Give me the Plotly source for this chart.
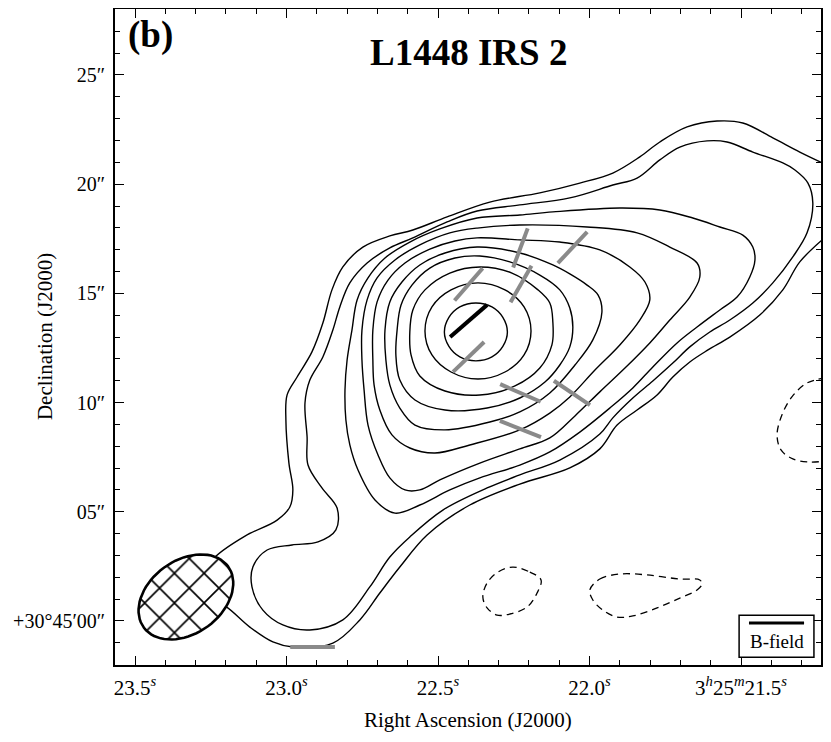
import math
import plotly.graph_objects as go

# Contour paths: RA in seconds of 3h25m, Dec in arcsec above +30d45m00s
c1_ra = [21.22, 21.306, 21.395, 21.494, 21.579, 21.678, 21.768, 21.834, 21.923, 22.032, 22.164, 22.329,
         22.470, 22.583, 22.659, 22.748, 22.814, 22.850, 22.880, 22.916, 22.965, 22.998, 23.002, 22.992,
         22.979, 22.989, 23.031, 23.137, 23.236, 23.286, 23.262, 23.203, 23.121, 23.045, 22.979, 22.847,
         22.758, 22.692, 22.626, 22.536, 22.395, 22.230, 22.065, 21.966, 21.909, 21.843, 21.777, 21.725,
         21.669, 21.609, 21.537, 21.438, 21.362, 21.306, 21.22]
c1_dec = [20.9, 21.47, 22.12, 22.80, 22.89, 22.62, 21.93, 21.25, 20.51, 20.05, 19.60, 19.18,
          18.50, 17.90, 17.63, 17.12, 16.21, 15.16, 13.64, 12.32, 11.17, 10.35, 9.20, 7.23,
          6.00, 5.22, 4.62, 3.89, 2.93, 1.97, 1.05, 0.69, -0.28, -0.96, -1.19, -1.01,
          0.05, 1.28, 2.47, 3.94, 5.31, 6.27, 7.01, 7.88, 8.97, 9.66, 10.35, 11.17,
          11.86, 12.41, 13.00, 14.01, 15.16, 16.44, 17.6]

c2_ra = [21.263, 21.279, 21.322, 21.362, 21.461, 21.546, 21.612, 21.702, 21.768, 21.843, 21.923, 22.065,
         22.230, 22.371, 22.470, 22.583, 22.659, 22.734, 22.791, 22.824, 22.847, 22.880, 22.923, 22.939,
         22.932, 22.929, 22.883, 22.833, 22.837, 22.896, 22.982, 23.064, 23.111, 23.114, 23.078, 23.012,
         22.923, 22.814, 22.725, 22.659, 22.593, 22.484, 22.338, 22.230, 22.098, 21.966, 21.923, 21.857,
         21.791, 21.725, 21.669, 21.603, 21.537, 21.461, 21.395, 21.329, 21.282]
c2_dec = [19.14, 20.05, 20.65, 20.97, 21.47, 21.93, 21.98, 21.70, 21.11, 20.28, 19.96, 19.37,
          19.05, 18.77, 18.27, 17.54, 17.08, 16.39, 15.48, 14.38, 13.32, 12.09, 11.03, 9.98,
          8.42, 7.14, 6.09, 5.17, 4.17, 3.62, 3.48, 3.25, 2.47, 1.56, 0.50, -0.18,
          -0.41, 0.05, 1.56, 2.93, 3.85, 5.08, 6.09, 6.69, 7.37, 8.56, 9.30, 10.21,
          10.99, 11.81, 12.55, 13.23, 13.78, 14.56, 15.48, 16.67, 17.77]

c3_ra = [21.454, 21.461, 21.494, 21.570, 21.659, 21.768, 21.900, 22.121, 22.230, 22.371, 22.494, 22.593,
         22.675, 22.731, 22.767, 22.784, 22.800, 22.807, 22.804, 22.791, 22.764, 22.708, 22.642, 22.560,
         22.461, 22.362, 22.230, 22.131, 22.032, 21.933, 21.857, 21.791, 21.711, 21.645, 21.570, 21.513,
         21.471]
c3_dec = [16.53, 17.12, 17.67, 18.04, 18.45, 18.82, 18.91, 18.73, 18.59, 18.45, 17.95, 17.35,
          16.62, 15.71, 14.70, 13.32, 11.95, 10.58, 9.20, 8.06, 6.91, 5.54, 4.94, 5.31,
          6.00, 6.55, 7.14, 7.74, 8.65, 9.75, 10.67, 11.63, 12.73, 13.46, 14.24, 14.83,
          15.75]

c4_ra = [21.636, 21.645, 21.735, 21.843, 22.008, 22.230, 22.371, 22.461, 22.560, 22.642, 22.701, 22.734,
         22.751, 22.751, 22.744, 22.731, 22.698, 22.659, 22.609, 22.560, 22.494, 22.362, 22.230, 22.131,
         22.048, 21.966, 21.883, 21.801, 21.735, 21.669]
c4_dec = [15.75, 16.39, 17.12, 17.77, 18.04, 18.13, 17.99, 17.77, 17.22, 16.53, 15.71, 14.70,
          13.32, 11.95, 10.58, 8.97, 7.60, 6.55, 6.00, 6.00, 6.46, 7.23, 7.88, 8.38,
          9.39, 10.49, 11.58, 12.73, 13.78, 14.83]

c5_ra = [21.801, 21.817, 21.867, 21.966, 22.098, 22.230, 22.371, 22.444, 22.527, 22.609, 22.665, 22.701,
         22.715, 22.715, 22.711, 22.692, 22.652, 22.593, 22.510, 22.395, 22.230, 22.131, 22.065, 21.982,
         21.900, 21.834]
c5_dec = [14.70, 15.52, 16.21, 16.99, 17.35, 17.45, 17.54, 17.40, 17.03, 16.39, 15.61, 14.61,
          13.32, 11.95, 10.81, 9.66, 8.52, 7.92, 7.69, 8.06, 8.75, 9.52, 10.26, 11.49,
          12.64, 13.78]

c6_ra = [21.959, 21.972, 22.008, 22.065, 22.121, 22.230, 22.371, 22.477, 22.560, 22.619, 22.659, 22.675,
         22.672, 22.659, 22.626, 22.576, 22.477, 22.329, 22.230, 22.131, 22.048, 21.989]
c6_dec = [14.15, 14.93, 15.38, 15.89, 16.30, 16.85, 17.12, 16.85, 16.30, 15.52, 14.61, 13.32,
          11.95, 10.81, 9.75, 8.97, 8.75, 9.11, 9.57, 10.44, 11.72, 12.87]

c7_ra = [22.055, 22.065, 22.098, 22.164, 22.263, 22.362, 22.444, 22.527, 22.586, 22.622, 22.635, 22.639,
         22.626, 22.576, 22.477, 22.338, 22.230, 22.147, 22.098, 22.065]
c7_dec = [13.46, 14.33, 15.16, 15.84, 16.44, 16.71, 16.62, 16.16, 15.38, 14.47, 13.32, 12.18,
          11.03, 10.12, 9.66, 9.75, 10.21, 10.94, 11.72, 12.55]

c8_ra = [22.121, 22.131, 22.170, 22.256, 22.362, 22.461, 22.543, 22.583, 22.593, 22.589, 22.560, 22.477,
         22.362, 22.246, 22.164, 22.124]
c8_dec = [13.69, 14.56, 15.16, 15.93, 16.21, 15.93, 15.16, 14.24, 13.23, 12.18, 11.22, 10.53,
          10.35, 10.76, 11.58, 12.64]

c9_ra = [22.193, 22.216, 22.279, 22.368, 22.457, 22.520, 22.543, 22.520, 22.457, 22.368, 22.279, 22.216]
c9_dec = [13.28, 14.38, 15.16, 15.48, 15.16, 14.38, 13.28, 12.18, 11.40, 11.08, 11.40, 12.18]

c10_ra = [22.271, 22.286, 22.322, 22.375, 22.428, 22.464, 22.479, 22.464, 22.428, 22.375, 22.322, 22.286]
c10_dec = [13.23, 13.90, 14.38, 14.56, 14.38, 13.90, 13.23, 12.57, 12.09, 11.91, 12.09, 12.57]

# negative (dashed) contours
n1_ra = [21.22, 21.282, 21.332, 21.365, 21.381, 21.368, 21.329, 21.279, 21.22]
n1_dec = [11.13, 10.90, 10.26, 9.43, 8.52, 7.83, 7.42, 7.28, 7.32]
n2_ra = [22.253, 22.197, 22.160, 22.173, 22.206, 22.263, 22.305, 22.338, 22.352, 22.338, 22.302]
n2_dec = [2.47, 2.24, 1.88, 1.28, 0.64, 0.32, 0.27, 0.60, 1.10, 1.74, 2.24]
n3_ra = [21.999, 21.966, 21.900, 21.810, 21.702, 21.636, 21.629, 21.645, 21.702, 21.777, 21.857,
         21.909, 21.956, 21.989]
n3_dec = [1.42, 1.92, 2.15, 2.11, 1.92, 1.88, 1.69, 1.42, 1.05, 0.60, 0.23, 0.18, 0.50, 0.96]

# B-field segments: position, position angle (deg E of N)
bf_ra = [22.228, 22.056, 22.399, 22.226, 22.399, 22.228, 22.058, 22.228, 22.914]
bf_dec = [17.08, 17.10, 15.41, 15.43, 12.09, 10.44, 10.44, 8.79, -1.19]
bf_pa = [-19, -41, -39, -28, -44, 65, 54, 67, 90]
bf_len = 1.9
peak_ra, peak_dec, peak_pa, peak_len = 22.399, 13.74, -47, 2.15

# synthesized beam
beam_ra, beam_dec = 23.332, 1.10
beam_maj, beam_min, beam_pa = 4.56, 3.26, -48

ra_ticks = [23.5, 23.0, 22.5, 22.0, 21.5]
ra_labels = ["23.5<sup><i>s</i></sup>", "23.0<sup><i>s</i></sup>", "22.5<sup><i>s</i></sup>",
             "22.0<sup><i>s</i></sup>", "3<sup><i>h</i></sup>25<sup><i>m</i></sup>21.5<sup><i>s</i></sup>"]
dec_ticks = [0, 5, 10, 15, 20, 25]
dec_labels = ["+30°45′00″", "05″", "10″", "15″", "20″", "25″"]

SEC_PER_ARCSEC = 1 / (15 * math.cos(math.radians(30.75)))
FONT = "Liberation Serif"

fig = go.Figure()

closed = [(c2_ra, c2_dec), (c3_ra, c3_dec), (c4_ra, c4_dec), (c5_ra, c5_dec), (c6_ra, c6_dec),
          (c7_ra, c7_dec), (c8_ra, c8_dec), (c9_ra, c9_dec), (c10_ra, c10_dec)]
fig.add_trace(go.Scatter(x=c1_ra, y=c1_dec, mode="lines",
                         line=dict(color="black", width=1.4, shape="spline", smoothing=1)))
for ra, dec in closed:
    fig.add_trace(go.Scatter(x=ra + ra[:1], y=dec + dec[:1], mode="lines",
                             line=dict(color="black", width=1.4, shape="spline", smoothing=1)))

fig.add_trace(go.Scatter(x=n1_ra, y=n1_dec, mode="lines",
                         line=dict(color="black", width=1.3, dash="7px,5px", shape="spline")))
for ra, dec in [(n2_ra, n2_dec), (n3_ra, n3_dec)]:
    fig.add_trace(go.Scatter(x=ra + ra[:1], y=dec + dec[:1], mode="lines",
                             line=dict(color="black", width=1.3, dash="7px,5px", shape="spline")))


def segment(ra0, dec0, pa, length):
    h = length / 2
    de = h * math.sin(math.radians(pa)) * SEC_PER_ARCSEC
    dn = h * math.cos(math.radians(pa))
    return [ra0 - de, ra0 + de], [dec0 - dn, dec0 + dn]


xs, ys = [], []
for r, d, p in zip(bf_ra, bf_dec, bf_pa):
    sx, sy = segment(r, d, p, bf_len)
    xs += sx + [None]
    ys += sy + [None]
fig.add_trace(go.Scatter(x=xs, y=ys, mode="lines", line=dict(color="#8a8a8a", width=4)))
sx, sy = segment(peak_ra, peak_dec, peak_pa, peak_len)
fig.add_trace(go.Scatter(x=sx, y=sy, mode="lines", line=dict(color="black", width=4)))

# beam ellipse with cross hatching
bx, by = [], []
a, b = beam_maj / 2, beam_min / 2
pa = math.radians(beam_pa)
for i in range(73):
    t = 2 * math.pi * i / 72
    e = a * math.cos(t) * math.sin(pa) + b * math.sin(t) * math.cos(pa)
    n = a * math.cos(t) * math.cos(pa) - b * math.sin(t) * math.sin(pa)
    bx.append(beam_ra + e * SEC_PER_ARCSEC)
    by.append(beam_dec + n)
fig.add_trace(go.Scatter(x=bx, y=by, mode="lines", fill="toself", fillcolor="white",
                         fillpattern=dict(shape="x", size=21, solidity=0.15, fgcolor="black",
                                          bgcolor="white", fillmode="replace"),
                         line=dict(color="black", width=2.6)))

axis_common = dict(showline=True, linecolor="black", linewidth=1.8, mirror="allticks",
                   ticks="inside", ticklen=9, tickwidth=1.4, tickcolor="black",
                   showgrid=False, zeroline=False, automargin=False)

fig.update_xaxes(range=[23.566, 21.236], tickmode="array", tickvals=ra_ticks, ticktext=ra_labels,
                 minor=dict(ticks="inside", ticklen=5, tickwidth=1.2, tickcolor="black",
                            tickmode="linear", tick0=21.5, dtick=0.1, showgrid=False),
                 tickfont=dict(family=FONT, size=21, color="black"),
                 ticklabelstandoff=3, **axis_common)
fig.update_yaxes(range=[-2.015, 28.02], tickmode="array", tickvals=dec_ticks, ticktext=dec_labels,
                 minor=dict(ticks="inside", ticklen=5, tickwidth=1.2, tickcolor="black",
                            tickmode="linear", tick0=0, dtick=1, showgrid=False),
                 tickfont=dict(family=FONT, size=20, color="black"),
                 ticklabelstandoff=4, **axis_common)

# the page body adds an 8px offset, so the margins are trimmed to keep the frame in place
fig.update_layout(
    width=831, height=742,
    margin=dict(l=107, r=18, t=1, b=85),
    paper_bgcolor="white", plot_bgcolor="white",
    showlegend=False,
    font=dict(family=FONT, color="black"),
    annotations=[
        dict(text="<b>L1448 IRS 2</b>", x=0.5, y=0.934, xref="paper", yref="paper",
             xanchor="center", yanchor="middle", showarrow=False, font=dict(size=37, family=FONT)),
        dict(text="<b>(b)</b>", x=0.016, y=0.960, xref="paper", yref="paper",
             xanchor="left", yanchor="middle", showarrow=False, font=dict(size=37, family=FONT)),
        dict(text="Right Ascension (J2000)", x=0.5, y=-0.084, xref="paper", yref="paper",
             xanchor="center", yanchor="middle", showarrow=False, font=dict(size=21, family=FONT)),
        dict(text="Declination (J2000)", x=-0.099, y=0.5, xref="paper", yref="paper",
             xanchor="center", yanchor="middle", textangle=-90, showarrow=False,
             font=dict(size=21, family=FONT)),
        dict(text="B-field", x=0.938, y=0.036, xref="paper", yref="paper",
             xanchor="center", yanchor="middle", showarrow=False, font=dict(size=19, family=FONT)),
    ],
    shapes=[
        dict(type="rect", xref="paper", yref="paper", x0=0.884, x1=0.990, y0=0.012, y1=0.076,
             line=dict(color="black", width=1.5), fillcolor="white", layer="above"),
        dict(type="line", xref="paper", yref="paper", x0=0.898, x1=0.976, y0=0.064, y1=0.064,
             line=dict(color="black", width=3), layer="above"),
    ],
)

fig.write_html("out.html")
